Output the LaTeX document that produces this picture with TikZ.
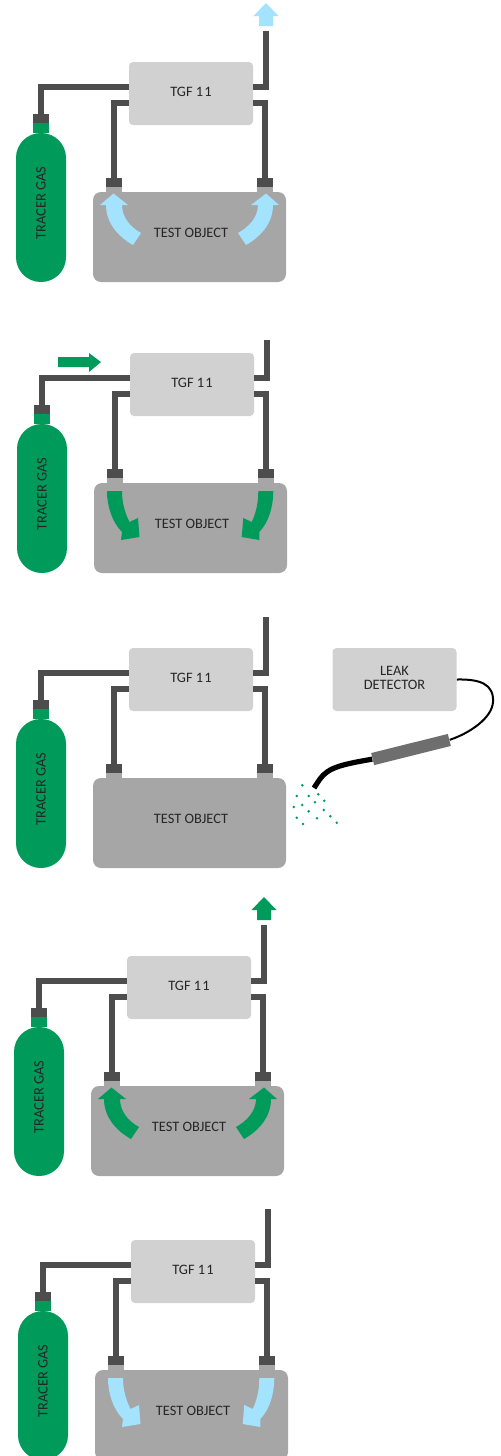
\documentclass[tikz,border=0pt]{standalone}
\usepackage{fontspec}
\setmainfont{Carlito}
\definecolor{gasgreen}{HTML}{009A5B}
\definecolor{pipegray}{HTML}{4D4D4D}
\definecolor{boxgray}{HTML}{D1D1D1}
\definecolor{testgray}{HTML}{A6A6A6}
\definecolor{airblue}{HTML}{A3E3FD}
\definecolor{probegray}{HTML}{6E6E6E}
\tikzset{
    unit/.style={x=0.5pt, y=-0.5pt},
    label/.style={font=\fontsize{7.2}{7}\selectfont, text=black!85, align=center, inner sep=0pt},
    tgfbox/.style={fill=boxgray, rounded corners=2pt, minimum width=62pt, minimum height=31.5pt, inner sep=0pt},
    testbox/.style={fill=testgray, rounded corners=4pt, minimum width=96.5pt, minimum height=45pt, inner sep=0pt},
    cylinder/.style={fill=gasgreen, rounded corners=12.4pt, minimum width=25pt, minimum height=74.5pt, inner sep=0pt},
    neck/.style={minimum width=8pt, minimum height=5pt, inner sep=0pt},
    capbox/.style={fill=pipegray, minimum width=8pt, minimum height=4.5pt, inner sep=0pt},
    pipe/.style={draw=pipegray, line width=3pt},
}
\newcommand{\flowup}[1]{
    \fill[#1] (106,205) .. controls (106,222) and (117,236) .. (133,245) -- (141,233)
        .. controls (130,227) and (122,217) .. (122,205) -- (128,205) -- (113.5,193.5) -- (100,205) -- cycle;
    \fill[#1] (273,205) .. controls (273,222) and (262,236) .. (246,245) -- (238,233)
        .. controls (249,227) and (258,217) .. (258,205) -- (251,205) -- (266,193.5) -- (279,205) -- cycle;
}
\newcommand{\flowdown}[1]{
    \fill[#1] (106,200) .. controls (106,215) and (111,231) .. (121,241) -- (120,249) -- (138.5,246) -- (137,227) -- (128.5,231)
        .. controls (124,222) and (121,212) .. (121,200) -- cycle;
    \fill[#1] (272.3,200) .. controls (272.3,215) and (268,231) .. (258.3,241) -- (258.3,249) -- (240.7,246) -- (242.3,227) -- (250.7,231)
        .. controls (255,222) and (257.3,212) .. (257.3,200) -- cycle;
}
\newcommand{\ventarrow}[1]{
    \fill[#1] (266,3) -- (278.5,16) -- (273,16) -- (273,26) -- (259,26) -- (259,16) -- (253.5,16) -- cycle;
}
\begin{document}
\begin{tikzpicture}[unit]
    \useasboundingbox (0,0) rectangle (501,1456);

    % one rig per row
    \foreach \n/\dx/\dy/\vent in {A/0/0/31, B/1/291/49, C/0/586/31, D/-2/894/31, E/2/1178/31} {
        \begin{scope}[shift={(\dx,\dy)}]
            \node[tgfbox] (tgf\n) at (191,93.5) {};
            \node[testbox] (test\n) at (189.5,237) {};
            \node[cylinder] (gas\n) at (41,207.5) {};
            \node[neck, fill=gasgreen] (gasneck\n) at (41,128) {};
            \node[capbox] (gascap\n) at (41,118.5) {};
            \node[neck, fill=testgray] (lneck\n) at (114,189.5) {};
            \node[neck, fill=testgray] (rneck\n) at (265,189.5) {};
            \node[capbox] (lcap\n) at (114,182.5) {};
            \node[capbox] (rcap\n) at (265,182.5) {};

            \coordinate (gasin\n) at (129,87);
            \coordinate (lin\n) at (129,103);
            \coordinate (rin\n) at (253,103);
            \coordinate (ventin\n) at (253,87);
            \coordinate (ventout\n) at (266,\vent);

            \draw[pipe] (gascap\n.north) |- (gasin\n);
            \draw[pipe] (lcap\n.north) |- (lin\n);
            \draw[pipe] (rcap\n.north) |- (rin\n);
            \draw[pipe] (ventin\n) -| (ventout\n);

            \node[label] (tgflabel\n) at (191,91.5) {TGF 1\kern0.6pt 1};
            \node[label] (testlabel\n) at (191,232.5) {TEST OBJECT};
            \node[label, rotate=90] (gaslabel\n) at (41,203) {TRACER GAS};

            \if\n A \flowup{airblue} \ventarrow{airblue} \fi
            \if\n B \flowdown{gasgreen} \fi
            \if\n D \flowup{gasgreen} \ventarrow{gasgreen} \fi
            \if\n E \flowdown{airblue} \fi
        \end{scope}
    }

    % feed arrow in second row
    \fill[gasgreen] (58,357) -- (89,357) -- (89,353) -- (101,362) -- (89,372) -- (89,367) -- (58,367) -- cycle;

    % leak detector
    \node[tgfbox] (leak) at (394.5,679.5) {};
    \node[label] (leaklabel) at (394.5,677.5) {LEAK\\DETECTOR};
    \node[fill=probegray, rotate=14, minimum width=39.5pt, minimum height=6.2pt, inner sep=0pt] (probe) at (411,749.5) {};
    \coordinate (nozzle) at (314,788);
    \draw[line width=1pt] (leak.east) .. controls (480,679) and (494,684) .. (493,702)
        .. controls (492,718) and (470,733) .. (probe.east);
    \draw[line width=2.6pt] (probe.west) .. controls (350,763) and (335,766) .. (327,772)
        .. controls (321,776) and (318,782) .. (nozzle);

    % escaping gas
    \foreach \px/\py in {302.3/785.3, 296.7/796, 308.7/796, 318.3/794.3, 315/802.3, 324.3/800.7, 302.3/805, 293.7/807,
        308.7/811.3, 323.7/810, 296.7/817.7, 317/818.3, 330.3/816.3, 303/824, 336.7/822.7} {
        \fill[gasgreen] (\px,\py) circle (0.7pt);
    }
\end{tikzpicture}
\end{document}
